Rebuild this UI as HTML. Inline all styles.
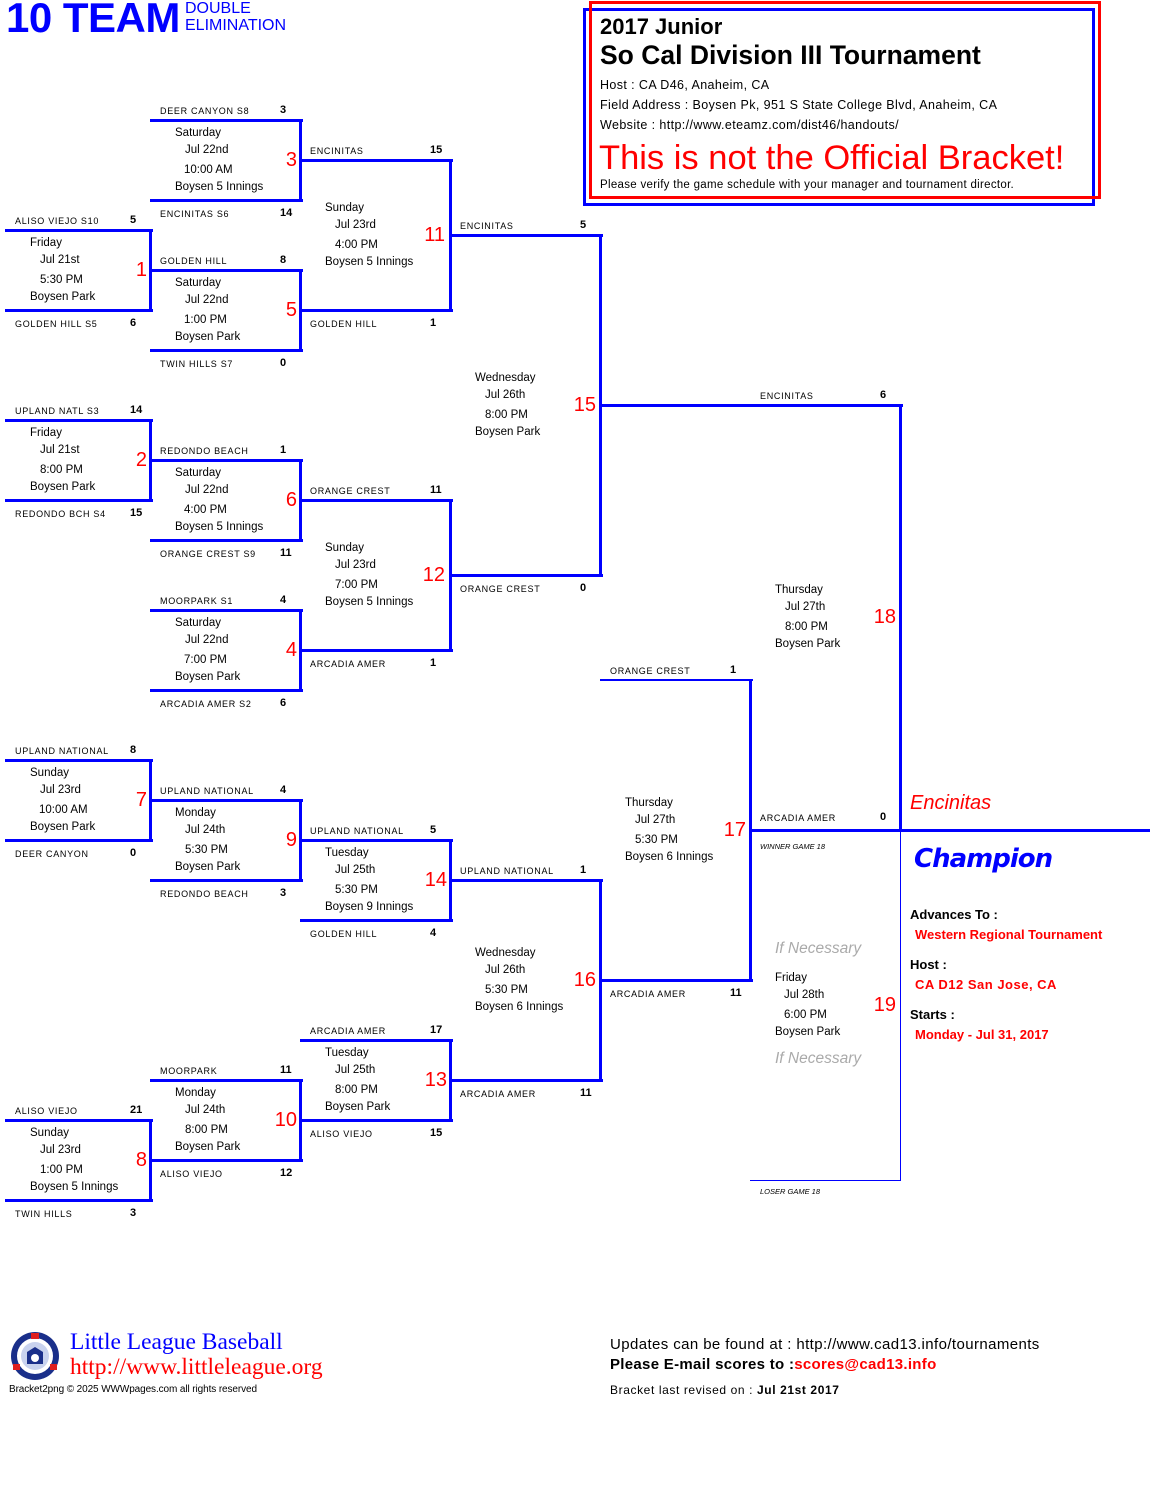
<!DOCTYPE html>
<html><head><meta charset="utf-8"><style>
body{margin:0;background:#fff;}
#p{position:relative;width:1150px;height:1500px;overflow:hidden;font-family:"Liberation Sans",sans-serif;color:#000;}
#p div{position:absolute;white-space:nowrap;}
.h{height:3px;background:#0000ff;}
.v{width:3px;background:#0000ff;}
.l{font-size:9px;letter-spacing:0.7px;line-height:10px;}
.s{font-size:11px;font-weight:bold;line-height:12px;}
.i{font-size:11.5px;line-height:14px;}
.n{font-size:20px;line-height:22px;color:#f00;text-align:right;width:40px;}
</style></head><body><div id="p">

<div style="left:6px;top:-5px;font-size:42px;font-weight:bold;color:#0000ff;line-height:46px;letter-spacing:-0.5px;">10 TEAM</div>
<div style="left:185px;top:0px;font-size:16px;color:#0000ff;line-height:17px;">DOUBLE<br>ELIMINATION</div>

<div style="left:583px;top:8px;width:506px;height:192px;border:3px solid #0000ff;"></div>
<div style="left:589px;top:1px;width:506px;height:192px;border:3px solid #ff0000;"></div>
<div style="left:600px;top:14px;font-size:22px;font-weight:bold;line-height:26px;">2017 Junior</div>
<div style="left:600px;top:40px;font-size:26.5px;font-weight:bold;line-height:30px;">So Cal Division III Tournament</div>
<div style="left:600px;top:77px;font-size:12.5px;letter-spacing:0.4px;line-height:16px;">Host : CA D46, Anaheim, CA</div>
<div style="left:600px;top:97px;font-size:12.5px;letter-spacing:0.4px;line-height:16px;">Field Address : Boysen Pk, 951 S State College Blvd, Anaheim, CA</div>
<div style="left:600px;top:117px;font-size:12.5px;letter-spacing:0.4px;line-height:16px;">Website : http://www.eteamz.com/dist46/handouts/</div>
<div style="left:599px;top:138px;font-size:34.5px;color:#f00;line-height:40px;">This is not the Official Bracket!</div>
<div style="left:600px;top:178px;font-size:11.5px;letter-spacing:0.3px;line-height:14px;">Please verify the game schedule with your manager and tournament director.</div>

<!-- G3 -->
<div class="h" style="left:150px;top:119px;width:153px"></div><div class="h" style="left:150px;top:199px;width:153px"></div><div class="v" style="left:299px;top:119px;height:83px"></div>
<div class="l" style="left:160px;top:106px">DEER CANYON S8</div><div class="s" style="left:280px;top:104px">3</div>
<div class="l" style="left:160px;top:209px">ENCINITAS S6</div><div class="s" style="left:280px;top:207px">14</div>
<div class="i" style="left:175px;top:126px">Saturday</div><div class="i" style="left:185px;top:143px">Jul 22nd</div><div class="i" style="left:184px;top:163px">10:00 AM</div><div class="i" style="left:175px;top:180px">Boysen  5 Innings</div>
<div class="n" style="left:257px;top:149px">3</div>
<!-- G1 -->
<div class="h" style="left:5px;top:229px;width:148px"></div><div class="h" style="left:5px;top:309px;width:148px"></div><div class="v" style="left:149px;top:229px;height:83px"></div>
<div class="l" style="left:15px;top:216px">ALISO VIEJO S10</div><div class="s" style="left:130px;top:214px">5</div>
<div class="l" style="left:15px;top:319px">GOLDEN HILL S5</div><div class="s" style="left:130px;top:317px">6</div>
<div class="i" style="left:30px;top:236px">Friday</div><div class="i" style="left:40px;top:253px">Jul 21st</div><div class="i" style="left:40px;top:273px">5:30 PM</div><div class="i" style="left:30px;top:290px">Boysen Park</div>
<div class="n" style="left:107px;top:259px">1</div>
<!-- G5 -->
<div class="h" style="left:150px;top:269px;width:153px"></div><div class="h" style="left:150px;top:349px;width:153px"></div><div class="v" style="left:299px;top:269px;height:83px"></div>
<div class="l" style="left:160px;top:256px">GOLDEN HILL</div><div class="s" style="left:280px;top:254px">8</div>
<div class="l" style="left:160px;top:359px">TWIN HILLS S7</div><div class="s" style="left:280px;top:357px">0</div>
<div class="i" style="left:175px;top:276px">Saturday</div><div class="i" style="left:185px;top:293px">Jul 22nd</div><div class="i" style="left:184px;top:313px">1:00 PM</div><div class="i" style="left:175px;top:330px">Boysen Park</div>
<div class="n" style="left:257px;top:299px">5</div>
<!-- G11 -->
<div class="h" style="left:300px;top:159px;width:153px"></div><div class="h" style="left:300px;top:309px;width:153px"></div><div class="v" style="left:449px;top:159px;height:153px"></div>
<div class="l" style="left:310px;top:146px">ENCINITAS</div><div class="s" style="left:430px;top:144px">15</div>
<div class="l" style="left:310px;top:319px">GOLDEN HILL</div><div class="s" style="left:430px;top:317px">1</div>
<div class="i" style="left:325px;top:201px">Sunday</div><div class="i" style="left:335px;top:218px">Jul 23rd</div><div class="i" style="left:335px;top:238px">4:00 PM</div><div class="i" style="left:325px;top:255px">Boysen  5 Innings</div>
<div class="n" style="left:405px;top:224px">11</div>
<!-- G2 -->
<div class="h" style="left:5px;top:419px;width:148px"></div><div class="h" style="left:5px;top:499px;width:148px"></div><div class="v" style="left:149px;top:419px;height:83px"></div>
<div class="l" style="left:15px;top:406px">UPLAND NATL S3</div><div class="s" style="left:130px;top:404px">14</div>
<div class="l" style="left:15px;top:509px">REDONDO BCH S4</div><div class="s" style="left:130px;top:507px">15</div>
<div class="i" style="left:30px;top:426px">Friday</div><div class="i" style="left:40px;top:443px">Jul 21st</div><div class="i" style="left:40px;top:463px">8:00 PM</div><div class="i" style="left:30px;top:480px">Boysen Park</div>
<div class="n" style="left:107px;top:449px">2</div>
<!-- G6 -->
<div class="h" style="left:150px;top:459px;width:153px"></div><div class="h" style="left:150px;top:539px;width:153px"></div><div class="v" style="left:299px;top:459px;height:83px"></div>
<div class="l" style="left:160px;top:446px">REDONDO BEACH</div><div class="s" style="left:280px;top:444px">1</div>
<div class="l" style="left:160px;top:549px">ORANGE CREST S9</div><div class="s" style="left:280px;top:547px">11</div>
<div class="i" style="left:175px;top:466px">Saturday</div><div class="i" style="left:185px;top:483px">Jul 22nd</div><div class="i" style="left:184px;top:503px">4:00 PM</div><div class="i" style="left:175px;top:520px">Boysen  5 Innings</div>
<div class="n" style="left:257px;top:489px">6</div>
<!-- G4 -->
<div class="h" style="left:150px;top:609px;width:153px"></div><div class="h" style="left:150px;top:689px;width:153px"></div><div class="v" style="left:299px;top:609px;height:83px"></div>
<div class="l" style="left:160px;top:596px">MOORPARK S1</div><div class="s" style="left:280px;top:594px">4</div>
<div class="l" style="left:160px;top:699px">ARCADIA AMER S2</div><div class="s" style="left:280px;top:697px">6</div>
<div class="i" style="left:175px;top:616px">Saturday</div><div class="i" style="left:185px;top:633px">Jul 22nd</div><div class="i" style="left:184px;top:653px">7:00 PM</div><div class="i" style="left:175px;top:670px">Boysen Park</div>
<div class="n" style="left:257px;top:639px">4</div>
<!-- G12 -->
<div class="h" style="left:300px;top:499px;width:153px"></div><div class="h" style="left:300px;top:649px;width:153px"></div><div class="v" style="left:449px;top:499px;height:153px"></div>
<div class="l" style="left:310px;top:486px">ORANGE CREST</div><div class="s" style="left:430px;top:484px">11</div>
<div class="l" style="left:310px;top:659px">ARCADIA AMER</div><div class="s" style="left:430px;top:657px">1</div>
<div class="i" style="left:325px;top:541px">Sunday</div><div class="i" style="left:335px;top:558px">Jul 23rd</div><div class="i" style="left:335px;top:578px">7:00 PM</div><div class="i" style="left:325px;top:595px">Boysen  5 Innings</div>
<div class="n" style="left:405px;top:564px">12</div>
<!-- G15 -->
<div class="h" style="left:450px;top:234px;width:153px"></div><div class="h" style="left:450px;top:574px;width:153px"></div><div class="v" style="left:599px;top:234px;height:343px"></div>
<div class="l" style="left:460px;top:221px">ENCINITAS</div><div class="s" style="left:580px;top:219px">5</div>
<div class="l" style="left:460px;top:584px">ORANGE CREST</div><div class="s" style="left:580px;top:582px">0</div>
<div class="i" style="left:475px;top:371px">Wednesday</div><div class="i" style="left:485px;top:388px">Jul 26th</div><div class="i" style="left:485px;top:408px">8:00 PM</div><div class="i" style="left:475px;top:425px">Boysen Park</div>
<div class="n" style="left:556px;top:394px">15</div>
<!-- G7 -->
<div class="h" style="left:5px;top:759px;width:148px"></div><div class="h" style="left:5px;top:839px;width:148px"></div><div class="v" style="left:149px;top:759px;height:83px"></div>
<div class="l" style="left:15px;top:746px">UPLAND NATIONAL</div><div class="s" style="left:130px;top:744px">8</div>
<div class="l" style="left:15px;top:849px">DEER CANYON</div><div class="s" style="left:130px;top:847px">0</div>
<div class="i" style="left:30px;top:766px">Sunday</div><div class="i" style="left:40px;top:783px">Jul 23rd</div><div class="i" style="left:39px;top:803px">10:00 AM</div><div class="i" style="left:30px;top:820px">Boysen Park</div>
<div class="n" style="left:107px;top:789px">7</div>
<!-- G9 -->
<div class="h" style="left:150px;top:799px;width:153px"></div><div class="h" style="left:150px;top:879px;width:153px"></div><div class="v" style="left:299px;top:799px;height:83px"></div>
<div class="l" style="left:160px;top:786px">UPLAND NATIONAL</div><div class="s" style="left:280px;top:784px">4</div>
<div class="l" style="left:160px;top:889px">REDONDO BEACH</div><div class="s" style="left:280px;top:887px">3</div>
<div class="i" style="left:175px;top:806px">Monday</div><div class="i" style="left:185px;top:823px">Jul 24th</div><div class="i" style="left:185px;top:843px">5:30 PM</div><div class="i" style="left:175px;top:860px">Boysen Park</div>
<div class="n" style="left:257px;top:829px">9</div>
<!-- G14 -->
<div class="h" style="left:300px;top:839px;width:153px"></div><div class="h" style="left:300px;top:919px;width:153px"></div><div class="v" style="left:449px;top:839px;height:83px"></div>
<div class="l" style="left:310px;top:826px">UPLAND NATIONAL</div><div class="s" style="left:430px;top:824px">5</div>
<div class="l" style="left:310px;top:929px">GOLDEN HILL</div><div class="s" style="left:430px;top:927px">4</div>
<div class="i" style="left:325px;top:846px">Tuesday</div><div class="i" style="left:335px;top:863px">Jul 25th</div><div class="i" style="left:335px;top:883px">5:30 PM</div><div class="i" style="left:325px;top:900px">Boysen 9 Innings</div>
<div class="n" style="left:407px;top:869px">14</div>
<!-- G16 -->
<div class="h" style="left:450px;top:879px;width:153px"></div><div class="h" style="left:450px;top:1079px;width:153px"></div><div class="v" style="left:599px;top:879px;height:203px"></div>
<div class="l" style="left:460px;top:866px">UPLAND NATIONAL</div><div class="s" style="left:580px;top:864px">1</div>
<div class="l" style="left:460px;top:1089px">ARCADIA AMER</div><div class="s" style="left:580px;top:1087px">11</div>
<div class="i" style="left:475px;top:946px">Wednesday</div><div class="i" style="left:485px;top:963px">Jul 26th</div><div class="i" style="left:485px;top:983px">5:30 PM</div><div class="i" style="left:475px;top:1000px">Boysen 6 Innings</div>
<div class="n" style="left:556px;top:969px">16</div>
<!-- G17 -->
<div class="h" style="left:600px;top:679px;width:153px;height:2px"></div><div class="h" style="left:600px;top:979px;width:153px"></div><div class="v" style="left:749px;top:679px;height:303px"></div>
<div class="l" style="left:610px;top:666px">ORANGE CREST</div><div class="s" style="left:730px;top:664px">1</div>
<div class="l" style="left:610px;top:989px">ARCADIA AMER</div><div class="s" style="left:730px;top:987px">11</div>
<div class="i" style="left:625px;top:796px">Thursday</div><div class="i" style="left:635px;top:813px">Jul 27th</div><div class="i" style="left:635px;top:833px">5:30 PM</div><div class="i" style="left:625px;top:850px">Boysen 6 Innings</div>
<div class="n" style="left:706px;top:819px">17</div>
<!-- G13 -->
<div class="h" style="left:300px;top:1039px;width:153px"></div><div class="h" style="left:300px;top:1119px;width:153px"></div><div class="v" style="left:449px;top:1039px;height:83px"></div>
<div class="l" style="left:310px;top:1026px">ARCADIA AMER</div><div class="s" style="left:430px;top:1024px">17</div>
<div class="l" style="left:310px;top:1129px">ALISO VIEJO</div><div class="s" style="left:430px;top:1127px">15</div>
<div class="i" style="left:325px;top:1046px">Tuesday</div><div class="i" style="left:335px;top:1063px">Jul 25th</div><div class="i" style="left:335px;top:1083px">8:00 PM</div><div class="i" style="left:325px;top:1100px">Boysen Park</div>
<div class="n" style="left:407px;top:1069px">13</div>
<!-- G10 -->
<div class="h" style="left:150px;top:1079px;width:153px"></div><div class="h" style="left:150px;top:1159px;width:153px"></div><div class="v" style="left:299px;top:1079px;height:83px"></div>
<div class="l" style="left:160px;top:1066px">MOORPARK</div><div class="s" style="left:280px;top:1064px">11</div>
<div class="l" style="left:160px;top:1169px">ALISO VIEJO</div><div class="s" style="left:280px;top:1167px">12</div>
<div class="i" style="left:175px;top:1086px">Monday</div><div class="i" style="left:185px;top:1103px">Jul 24th</div><div class="i" style="left:185px;top:1123px">8:00 PM</div><div class="i" style="left:175px;top:1140px">Boysen Park</div>
<div class="n" style="left:257px;top:1109px">10</div>
<!-- G8 -->
<div class="h" style="left:5px;top:1119px;width:148px"></div><div class="h" style="left:5px;top:1199px;width:148px"></div><div class="v" style="left:149px;top:1119px;height:83px"></div>
<div class="l" style="left:15px;top:1106px">ALISO VIEJO</div><div class="s" style="left:130px;top:1104px">21</div>
<div class="l" style="left:15px;top:1209px">TWIN HILLS</div><div class="s" style="left:130px;top:1207px">3</div>
<div class="i" style="left:30px;top:1126px">Sunday</div><div class="i" style="left:40px;top:1143px">Jul 23rd</div><div class="i" style="left:40px;top:1163px">1:00 PM</div><div class="i" style="left:30px;top:1180px">Boysen  5 Innings</div>
<div class="n" style="left:107px;top:1149px">8</div>
<!-- G18 -->
<div class="h" style="left:600px;top:404px;width:303px"></div><div class="v" style="left:899px;top:404px;height:428px"></div>
<div class="h" style="left:750px;top:829px;width:400px"></div>
<div class="l" style="left:760px;top:391px">ENCINITAS</div><div class="s" style="left:880px;top:389px">6</div>
<div class="l" style="left:760px;top:813px">ARCADIA AMER</div><div class="s" style="left:880px;top:811px">0</div>
<div style="left:760px;top:842px;font-size:7.5px;font-style:italic;line-height:9px;">WINNER GAME 18</div>
<div class="i" style="left:775px;top:583px">Thursday</div><div class="i" style="left:785px;top:600px">Jul 27th</div><div class="i" style="left:785px;top:620px">8:00 PM</div><div class="i" style="left:775px;top:637px">Boysen Park</div>
<div class="n" style="left:856px;top:606px">18</div>
<div style="left:910px;top:791px;font-size:20px;font-style:italic;color:#f00;line-height:24px;">Encinitas</div>
<!-- G19 -->
<div style="left:900px;top:830px;width:1px;height:350px;background:#0000ff"></div>
<div style="left:750px;top:1180px;width:151px;height:1px;background:#0000ff"></div>
<div style="left:760px;top:1187px;font-size:7.5px;font-style:italic;line-height:9px;">LOSER GAME 18</div>
<div style="left:775px;top:940px;font-size:15.5px;font-style:italic;color:#aaa;line-height:18px;">If Necessary</div>
<div style="left:775px;top:1050px;font-size:15.5px;font-style:italic;color:#aaa;line-height:18px;">If Necessary</div>
<div class="i" style="left:775px;top:971px">Friday</div><div class="i" style="left:784px;top:988px">Jul 28th</div><div class="i" style="left:784px;top:1008px">6:00 PM</div><div class="i" style="left:775px;top:1025px">Boysen Park</div>
<div class="n" style="left:856px;top:994px">19</div>

<div style="left:914px;top:842px;font-size:26px;font-weight:bold;font-style:italic;color:#0000ff;line-height:34px;font-family:'DejaVu Sans',sans-serif;letter-spacing:-1px;">Champion</div>
<div style="left:910px;top:907px;font-size:13px;font-weight:bold;line-height:16px;">Advances To :</div>
<div style="left:915px;top:927px;font-size:13px;font-weight:bold;color:#f00;line-height:16px;">Western Regional Tournament</div>
<div style="left:910px;top:957px;font-size:13px;font-weight:bold;line-height:16px;">Host :</div>
<div style="left:915px;top:977px;font-size:13px;font-weight:bold;color:#f00;line-height:16px;letter-spacing:0.5px;">CA D12 San Jose, CA</div>
<div style="left:910px;top:1007px;font-size:13px;font-weight:bold;line-height:16px;">Starts :</div>
<div style="left:915px;top:1027px;font-size:13px;font-weight:bold;color:#f00;line-height:16px;">Monday - Jul 31, 2017</div>

<!-- footer -->
<svg style="position:absolute;left:9px;top:1330px" width="52" height="52" viewBox="0 0 52 52">
<circle cx="26" cy="26" r="24" fill="#1a2f8a"/><circle cx="26" cy="26" r="18" fill="#fff"/>
<circle cx="26" cy="26" r="14" fill="#c8d2ee"/><path d="M18 22 L26 17 L34 22 L34 34 L18 34Z" fill="#1a2f8a"/>
<circle cx="26" cy="28" r="4" fill="#fff"/><rect x="22" y="3" width="8" height="6" fill="#e02020"/>
<rect x="4" y="34" width="7" height="6" fill="#e02020"/><rect x="41" y="34" width="7" height="6" fill="#e02020"/>
</svg>
<div style="left:70px;top:1329px;font-family:'Liberation Serif',serif;font-size:23.5px;color:#0000ff;line-height:27px;">Little League Baseball</div>
<div style="left:70px;top:1354px;font-family:'Liberation Serif',serif;font-size:23.5px;color:#f00;line-height:27px;">http://www.littleleague.org</div>
<div style="left:9px;top:1384px;font-size:10px;letter-spacing:-0.1px;line-height:12px;">Bracket2png © 2025 WWWpages.com  all rights reserved</div>
<div style="left:610px;top:1336px;font-size:15px;line-height:18px;letter-spacing:0.4px;">Updates can be found at : http://www.cad13.info/tournaments</div>
<div style="left:610px;top:1356px;font-size:15px;font-weight:bold;line-height:18px;letter-spacing:0.3px;">Please E-mail scores to :<span style="color:#f00">scores@cad13.info</span></div>
<div style="left:610px;top:1383px;font-size:12px;line-height:14px;letter-spacing:0.6px;">Bracket last revised on :  <b>Jul 21st 2017</b></div>
</div></body></html>
